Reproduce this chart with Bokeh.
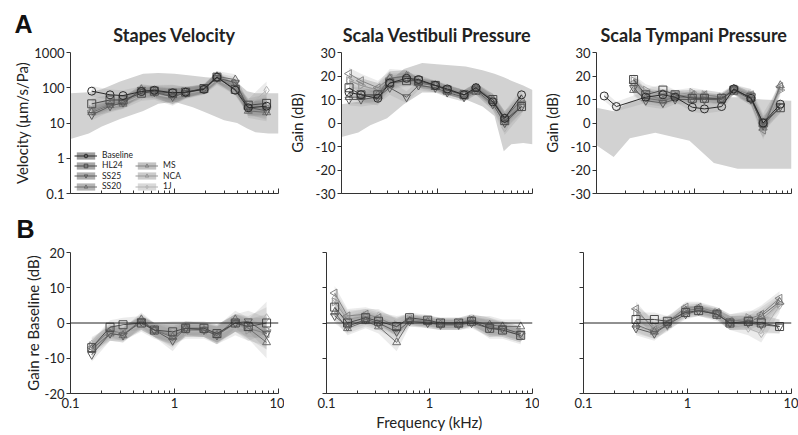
import numpy as np
from bokeh.plotting import figure
from bokeh.layouts import column, row
from bokeh.models import Range1d, FixedTicker, Span, Legend, LegendItem, Title
from bokeh.embed import file_html
from bokeh.resources import INLINE

FONT = "Lato"

# ---------------- data ----------------
NAMES = ["Baseline", "HL24", "SS25", "SS20", "MS", "NCA", "1J"]
F = [0.12, 0.16, 0.24, 0.32, 0.48, 0.64, 0.96, 1.28, 1.92, 2.56, 3.84, 5.12, 7.68]
F_STAPES = [0.16, 0.24, 0.32, 0.48, 0.64, 0.96, 1.28, 1.92, 2.56, 3.84, 5.12, 7.68]
F_ST_BASE = [0.12, 0.16, 0.32, 0.48, 0.64, 0.96, 1.28, 1.92, 2.56, 3.84, 5.12, 7.68]
F_ST_OTHER = [0.24, 0.32, 0.48, 0.64, 0.96, 1.28, 1.92, 2.56, 3.84, 5.12, 7.68]
F_ST_DIFF = [0.32, 0.48, 0.64, 0.96, 1.28, 1.92, 2.56, 3.84, 5.12, 7.68]

X_TICKS = [0.1, 1, 10]
X_TICK_LABELS = ["0.1", "1", "10"]
X_MINOR = [0.2, 0.3, 0.4, 0.5, 0.6, 0.7, 0.8, 0.9, 2, 3, 4, 5, 6, 7, 8, 9]
V_TICKS = [0.1, 1, 10, 100, 1000]
V_TICK_LABELS = ["0.1", "1", "10", "100", "1000"]
G_TICKS = [-30, -20, -10, 0, 10, 20, 30]
D_TICKS = [-20, -10, 0, 10, 20]

# Stapes velocity (um/s/Pa) at F_STAPES
stapes_baseline = [80, 63, 60, 78, 85, 72, 75, 90, 200, 85, 27, 30]
stapes_hl24 = [35, 45, 45, 70, 80, 70, 75, 95, 200, 90, 32, 36]
stapes_ss25 = [17, 30, 38, 88, 75, 55, 72, 95, 190, 140, 28, 22]
stapes_ss20 = [20, 32, 35, 90, 78, 60, 75, 95, 210, 170, 22, 20]
stapes_ms = [22, 35, 40, 75, 72, 58, 72, 90, 190, 110, 25, 25]
stapes_nca = [24, 35, 40, 70, 70, 58, 70, 88, 180, 100, 25, 28]
stapes_1j = [22, 28, 36, 60, 65, 52, 68, 85, 170, 90, 30, 85]
stapes_spread_db = [3, 3, 3, 3, 3, 4.5, 3, 2.5, 3, 3, 4, 5]

# Scala vestibuli gain (dB) at F
sv_baseline = [13, 12, 10.5, 17, 19, 18.5, 16, 14.5, 12, 15, 9, 2, 12]
sv_hl24 = [15, 12, 12, 17, 18, 18, 16, 14, 12, 14, 10, 1, 7]
sv_ss25 = [10, 10, 11, 15, 11, 16, 15, 13, 11, 14, 8, 0, 7]
sv_ss20 = [11, 11, 12, 19, 20, 17, 16, 14, 12, 15, 10, 2, 10]
sv_ms = [21, 18, 15, 19, 20, 17, 16, 14, 12, 15, 9, 1, 8]
sv_nca = [18, 16, 14, 18, 19, 17, 16, 14, 12, 15, 10, 2, 9]
sv_1j = [18, 16, 14, 20, 20, 17, 15, 13, 11, 14, 8, -2, 6]
sv_spread_db = [2.5, 3, 3, 3, 2.5, 2, 2, 2, 2, 2, 2.5, 3, 2.5]

# Scala tympani gain (dB)
st_baseline = [11.5, 7, 11, 12, 11, 6.7, 6, 7, 14.5, 10.5, 0, 8]        # F_ST_BASE
st_hl24 = [18.5, 12, 14, 12, 10.5, 10.5, 10.5, 14, 11, 0, 6.5]           # F_ST_OTHER
st_ss25 = [15, 9.5, 8.5, 10, 10, 10, 10, 14, 10, -1, 7]
st_ss20 = [14, 10.5, 9.5, 11, 11, 11, 10, 14.5, 10.5, -2, 16]
st_ms = [17, 12, 10, 11.5, 12, 12, 11, 14.5, 12, -3, 15.5]
st_nca = [18, 14, 12, 12, 13, 12, 11, 14, 12, 1, 14]
st_1j = [16, 12.5, 11, 12, 12, 11, 10, 14, 10, -4, 15]
st_spread_db = [2, 2, 2.5, 2.5, 2.5, 2, 2, 2, 2, 2, 2.5, 3, 2.5]           # at F

# Normative ranges
stapes_norm_f = [0.1, 0.15, 0.2, 0.3, 0.5, 0.7, 1.0, 1.5, 2.0, 3.0, 4.0, 5.0, 6.0, 8.0, 10.0]
stapes_norm_hi = [70, 75, 90, 150, 250, 260, 250, 220, 200, 180, 140, 80, 70, 70, 70]
stapes_norm_lo = [3.5, 5, 8, 13, 22, 35, 40, 28, 20, 12, 10, 7, 5.5, 5, 5]
sv_norm_f = [0.1, 0.15, 0.2, 0.3, 0.45, 0.7, 1.0, 2.0, 3.0, 4.0, 5.0, 6.0, 8.0, 10.0]
sv_norm_hi = [8, 9, 11, 17, 23, 25.5, 25, 24, 22.5, 21, 19.5, 18, 16, 14]
sv_norm_lo = [-6, -4, -1, 2, 8, 13, 13, 10, 7, 3, -12, -9, -8.5, -9]
st_norm_f = [0.1, 0.15, 0.22, 0.4, 0.9, 1.6, 2.8, 5.0, 10.0]
st_norm_hi = [6.5, 5, 9, 11, 11, 11, 11, 10, 9.5]
st_norm_lo = [-9.5, -14.5, -6.5, -4.2, -7.5, -17, -19.5, -19.5, -19.5]

# Gain re baseline (dB)
d_stapes_hl24 = [-7, -1.2, -0.5, 0, -2, -2.5, -1.5, -1.5, -3, 0, -1, 0]
d_stapes_ss25 = [-9, -3, -3.5, 0.5, -2, -5, -1.5, -2, -3.5, 0, 0.5, -3]
d_stapes_ss20 = [-7.5, -3, -3.5, 1, -2, -4, -1.5, -2, -3.5, 1, -1.5, -5.5]
d_stapes_ms = [-7, -2, -3, 0, -2, -3.5, -2, -2, -3, 0, -1.5, -3]
d_stapes_nca = [-6.5, -2.5, -3, 0, -2, -3, -2, -2, -3, 0, -2, -2]
d_stapes_1j = [-6, -3, -3, -0.5, -2.5, -3, -2.5, -2.5, -3.5, -1, -2, 1.5]
d_stapes_spread = [2, 2, 2, 2, 2, 3, 2, 2, 2.5, 2.5, 3, 4.5]

d_sv_hl24 = [4.5, 0, 1.5, 0.5, -1, 1.5, 0.8, 0, 0, 0.5, -1.5, -2, -3.5]
d_sv_ss25 = [2, -1, 1, 0, -2.5, 0.5, 0, -0.5, -0.5, 0, -1.5, -1.5, -3]
d_sv_ss20 = [3, -1.5, 0.5, -1, -5.5, 0.5, 0.3, -0.5, -0.5, 0.5, -0.5, -1, -1]
d_sv_ms = [8.5, 2, 2.5, 1.5, -1, 1, 0.5, 0, 0, 1, -1, -2, -3.5]
d_sv_nca = [6, 1, 2, 1, -0.5, 1, 0.5, 0, 0, 1, -1, -1.5, -3]
d_sv_1j = [7, 1.5, 2, 2, -1.5, 1, 0, -0.5, -0.5, 0.5, -2, -2.5, -4]
d_sv_spread = [2, 2, 2, 2, 2.5, 1.5, 1.5, 1.5, 1.5, 1.5, 2.5, 2, 2]

d_st_hl24 = [1, 1, 0.5, 3, 3.5, 2.5, 0, 0.5, 0, -1]
d_st_ss25 = [-1.5, -3, -0.5, 2.5, 3.5, 2.5, 0, 0, -0.5, -1]
d_st_ss20 = [-0.5, -2.5, -0.5, 3.5, 4, 2.5, 0, 0, 2, 6]
d_st_ms = [4, -2, 0, 4.5, 4.5, 3, 0.5, 1, 2.5, 7]
d_st_nca = [3, -1, 0.5, 4, 4, 3, 0.5, 1.5, 1, 5.5]
d_st_1j = [-1, -2.5, -1, 3, 3.5, 2, 0, -1.5, -3, 5]
d_st_spread = [2, 2, 1.5, 1.5, 1.5, 1.5, 2, 2, 2.5, 2]

# ---------------- styles ----------------
STYLE = {
    "Baseline": ("circle", 0.0, "#2b2b2b", "#9c9c9c"),
    "HL24": ("square", 0.0, "#4a4a4a", "#a6a6a6"),
    "SS25": ("inverted_triangle", 0.0, "#5c5c5c", "#adadad"),
    "SS20": ("triangle", 0.0, "#6e6e6e", "#b4b4b4"),
    "MS": ("triangle", np.pi / 2, "#848484", "#c2c2c2"),
    "NCA": ("triangle", -np.pi / 2, "#999999", "#cbcbcb"),
    "1J": ("diamond", 0.0, "#b3b3b3", "#d9d9d9"),
}
NORM_COLOR = "#d2d2d2"
BAND_COLOR = "#6f6f6f"
AXIS_COLOR = "#333333"

# legend layout (column, row) per series
LEG_POS = {"Baseline": (0, 0), "HL24": (0, 1), "SS25": (0, 2), "SS20": (0, 3),
           "MS": (1, 1), "NCA": (1, 2), "1J": (1, 3)}


def make_fig(w, h, left, right, top, bottom, yr, ylog, xlabels, ylabels, yticks, label_standoff=0):
    p = figure(width=w, height=h, x_axis_type="log", y_axis_type="log" if ylog else "linear",
               x_range=Range1d(0.1, 10), y_range=yr, output_backend="svg", toolbar_location=None,
               min_border_left=left, min_border_right=right, min_border_top=top,
               min_border_bottom=bottom)
    p.outline_line_color = None
    p.grid.visible = False
    xa = p.xaxis[0]
    xa.ticker = FixedTicker(ticks=X_TICKS, minor_ticks=X_MINOR)
    xa.major_label_overrides = {t: (s if xlabels else "") for t, s in zip(X_TICKS, X_TICK_LABELS)}
    xa.major_tick_in = 5
    xa.major_tick_out = 0
    xa.minor_tick_in = 3
    xa.minor_tick_out = 0
    xa.axis_line_color = AXIS_COLOR
    xa.major_tick_line_color = AXIS_COLOR
    xa.minor_tick_line_color = AXIS_COLOR
    xa.major_label_text_font = FONT
    xa.major_label_text_color = "#222222"
    xa.major_label_standoff = 4 if xlabels else 0
    xa.major_label_text_font_size = "13px" if xlabels else "1px"
    ya = p.yaxis[0]
    ya.ticker = FixedTicker(ticks=yticks[0])
    ya.major_label_overrides = {t: (s if ylabels else "") for t, s in zip(yticks[0], yticks[1])}
    ya.major_tick_in = 0
    ya.major_tick_out = 4
    ya.minor_tick_in = 0
    ya.minor_tick_out = 0
    ya.axis_line_color = AXIS_COLOR
    ya.major_tick_line_color = AXIS_COLOR
    ya.major_label_text_font = FONT
    ya.major_label_text_color = "#222222"
    ya.major_label_standoff = 2
    ya.major_label_text_font_size = "13px" if ylabels else "1px"
    ya.axis_label_text_font = FONT
    ya.axis_label_text_font_size = "15px"
    ya.axis_label_text_font_style = "normal"
    ya.axis_label_text_color = "#222222"
    ya.axis_label_standoff = label_standoff
    return p


def add_title(p, text, off):
    p.add_layout(Title(text=text, align="center", text_font=FONT, text_font_size="18px",
                       text_font_style="bold", text_color="#222222", offset=off, standoff=14), "above")


def add_letter(p, text, off, standoff, valign):
    p.add_layout(Title(text=text, align="left", offset=off, standoff=standoff,
                       vertical_align=valign, text_font="Liberation Sans", text_font_size="25px",
                       text_font_style="bold", text_color="#111111"), "above")


def draw_series(p, xs_list, ys_list, spreads, ylog, names):
    lines, marks, swatches = {}, {}, {}
    for name, xs, ys, sp in zip(names, xs_list, ys_list, spreads):
        ys = np.array(ys, dtype=float)
        sp = np.array(sp, dtype=float)
        if ylog:
            lo, hi = ys * 10 ** (-sp / 20), ys * 10 ** (sp / 20)
        else:
            lo, hi = ys - sp, ys + sp
        p.varea(x=xs, y1=lo, y2=hi, fill_color=BAND_COLOR, fill_alpha=0.14)
        # hidden copy of the band, used only to draw a stronger legend swatch
        swatches[name] = p.varea(x=xs, y1=lo, y2=hi, fill_color=STYLE[name][3], fill_alpha=1.0,
                                 visible=False)
    for name, xs, ys in reversed(list(zip(names, xs_list, ys_list))):
        m, ang, col, _ = STYLE[name]
        lines[name] = p.line(xs, ys, line_color=col, line_width=1.0)
        marks[name] = p.scatter(xs, ys, marker=m, angle=ang, size=8, line_color=col,
                                fill_color=None, line_width=1.0)
    return lines, marks, swatches


def pick(spread, freqs):
    lookup = dict(zip(F, spread))
    return [lookup[f] for f in freqs]


W = [284, 255, 259]
LEFT = [70, 42, 44]
RIGHT = [6, 7, 7]
H1, H2 = 203, 232
TOP1, BOT1, TOP2, BOT2 = 52, 10, 49, 42

# ---------------- Row A ----------------
pA1 = make_fig(W[0], H1, LEFT[0], RIGHT[0], TOP1, BOT1, Range1d(0.1, 1000), True, False, True,
               (V_TICKS, V_TICK_LABELS), 0)
pA1.yaxis[0].axis_label = "Velocity (µm/s/Pa)"
pA1.varea(x=stapes_norm_f, y1=stapes_norm_lo, y2=stapes_norm_hi, fill_color=NORM_COLOR)
lA, mA, sA = draw_series(
    pA1, [F_STAPES] * 7,
    [stapes_baseline, stapes_hl24, stapes_ss25, stapes_ss20, stapes_ms, stapes_nca, stapes_1j],
    [stapes_spread_db] * 7, True, NAMES)
add_title(pA1, "Stapes Velocity", 6)
add_letter(pA1, "A", -56, -47, "bottom")

# legend: one small legend per entry, arranged in two columns
LEG_X = [4, 65]
LEG_ROW_Y = [32.9, 22.6, 12.3, 2.0]
for n in NAMES:
    c, r = LEG_POS[n]
    lg = Legend(items=[LegendItem(label=n, renderers=[sA[n], lA[n], mA[n]])],
                location=(LEG_X[c], LEG_ROW_Y[r]), padding=0, spacing=0, margin=0,
                glyph_height=9, glyph_width=23, label_height=8, label_standoff=5,
                label_text_font=FONT, label_text_font_size="8.5px", label_text_color="#222222",
                border_line_color=None, background_fill_alpha=0)
    pA1.add_layout(lg)

pA2 = make_fig(W[1], H1, LEFT[1], RIGHT[1], TOP1, BOT1, Range1d(-30, 30), False, False, True,
               (G_TICKS, [str(t) for t in G_TICKS]), 7)
pA2.yaxis[0].axis_label = "Gain (dB)"
pA2.varea(x=sv_norm_f, y1=sv_norm_lo, y2=sv_norm_hi, fill_color=NORM_COLOR)
draw_series(pA2, [F] * 7, [sv_baseline, sv_hl24, sv_ss25, sv_ss20, sv_ms, sv_nca, sv_1j],
            [sv_spread_db] * 7, False, NAMES)
add_title(pA2, "Scala Vestibuli Pressure", 6)

pA3 = make_fig(W[2], H1, LEFT[2], RIGHT[2], TOP1, BOT1, Range1d(-30, 30), False, False, True,
               (G_TICKS, [str(t) for t in G_TICKS]), 7)
pA3.yaxis[0].axis_label = "Gain (dB)"
pA3.varea(x=st_norm_f, y1=st_norm_lo, y2=st_norm_hi, fill_color=NORM_COLOR)
draw_series(pA3, [F_ST_BASE] + [F_ST_OTHER] * 6,
            [st_baseline, st_hl24, st_ss25, st_ss20, st_ms, st_nca, st_1j],
            [pick(st_spread_db, F_ST_BASE)] + [pick(st_spread_db, F_ST_OTHER)] * 6, False, NAMES)
add_title(pA3, "Scala Tympani Pressure", 7)

# ---------------- Row B ----------------
D_LABELS = [str(t) for t in D_TICKS]
pB1 = make_fig(W[0], H2, LEFT[0], RIGHT[0], TOP2, BOT2, Range1d(-20, 20), False, True, True,
               (D_TICKS, D_LABELS), 0)
pB1.yaxis[0].axis_label = "Gain re Baseline (dB)"
pB2 = make_fig(W[1], H2, LEFT[1], RIGHT[1], TOP2, BOT2, Range1d(-20, 20), False, True, False,
               (D_TICKS, D_LABELS))
pB2.xaxis[0].axis_label = "Frequency (kHz)"
xa = pB2.xaxis[0]
xa.axis_label_text_font = FONT
xa.axis_label_text_font_size = "15px"
xa.axis_label_text_font_style = "normal"
xa.axis_label_text_color = "#222222"
xa.axis_label_standoff = 2
pB3 = make_fig(W[2], H2, LEFT[2], RIGHT[2], TOP2, BOT2, Range1d(-20, 20), False, True, False,
               (D_TICKS, D_LABELS))
for p in (pB1, pB2, pB3):
    p.add_layout(Span(location=0, dimension="width", line_color="#222222", line_width=1))

SUB = NAMES[1:]
draw_series(pB1, [F_STAPES] * 6,
            [d_stapes_hl24, d_stapes_ss25, d_stapes_ss20, d_stapes_ms, d_stapes_nca, d_stapes_1j],
            [d_stapes_spread] * 6, False, SUB)
draw_series(pB2, [F] * 6, [d_sv_hl24, d_sv_ss25, d_sv_ss20, d_sv_ms, d_sv_nca, d_sv_1j],
            [d_sv_spread] * 6, False, SUB)
draw_series(pB3, [F_ST_DIFF] * 6, [d_st_hl24, d_st_ss25, d_st_ss20, d_st_ms, d_st_nca, d_st_1j],
            [d_st_spread] * 6, False, SUB)
add_letter(pB1, "B", -54, 15, "top")

layout = column(row(pA1, pA2, pA3), row(pB1, pB2, pB3))
open("out.html", "w").write(file_html(layout, INLINE))
